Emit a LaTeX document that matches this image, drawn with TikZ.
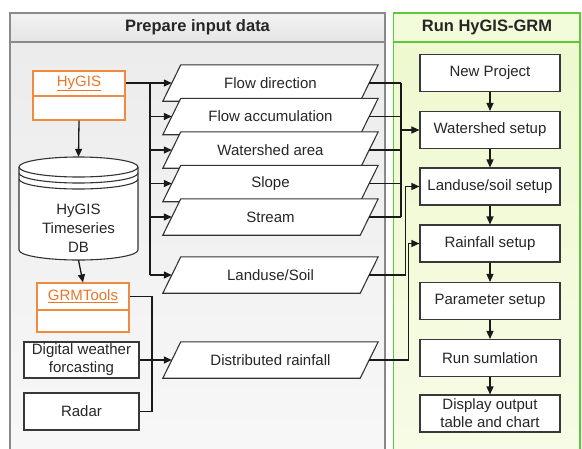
\documentclass[tikz,border=0pt]{standalone}
\usepackage{fontspec}
\setmainfont{Liberation Sans}
\usetikzlibrary{arrows.meta,backgrounds,calc}
\definecolor{orng}{HTML}{F08A3C}
\definecolor{orngtxt}{HTML}{E8772A}
\definecolor{grn}{HTML}{5CC83A}
\definecolor{pgray}{HTML}{8A8A8A}
\definecolor{gbody}{HTML}{EEF9CF}
\definecolor{gbody2}{HTML}{F7FCE6}
\definecolor{gtitle}{HTML}{F2FBDA}
\begin{document}
\begin{tikzpicture}[x=1pt,y=-1pt,
  txt/.style={font=\fontsize{15}{19}\selectfont, text=black!85, align=center},
  ttl/.style={font=\fontsize{16.5}{19}\selectfont\bfseries, text=black!85},
  para/.style={txt, minimum width=197pt, minimum height=36pt, inner sep=0pt},
  parashape/.style={draw=black!80, fill=white, line width=1.1pt},
  sbox/.style={txt, draw=black!78, fill=white, line width=1.1pt, minimum width=140pt, minimum height=37pt, inner sep=0pt},
  lbox/.style={txt, draw=black!78, fill=white, line width=1.1pt, minimum width=115pt, inner sep=0pt},
  obox/.style={txt, draw=orng, fill=white, line width=1.1pt, minimum width=92pt, inner sep=0pt, text=orngtxt},
  conn/.style={line width=1.3pt, draw=black!90},
  arr/.style={conn, -{Triangle[length=8pt,width=7pt]}},
  ]
\useasboundingbox (0,0) rectangle (582,448);

% ---------- panels ----------
\begin{pgfonlayer}{background}
  \shade[top color=gray!15, bottom color=gray!6] (10,42) rectangle (385,452);
  \shade[top color=gray!10, bottom color=gray!20] (10,13) rectangle (385,42);
  \draw[pgray, line width=1.5pt] (10,452) -- (10,13) -- (385,13) -- (385,452);
  \draw[pgray, line width=1.5pt] (10,42) -- (385,42);
  \shade[top color=gbody, bottom color=gbody2] (393.5,42) rectangle (580,452);
  \fill[gtitle] (393.5,13) rectangle (580,42);
  \draw[grn, line width=1.5pt] (393.5,452) -- (393.5,13) -- (580,13) -- (580,452);
  \draw[grn, line width=1.5pt] (393.5,42) -- (580,42);
\end{pgfonlayer}

\node[ttl] (tleft) at (197.5,27.5) {Prepare input data};
\node[ttl] (tright) at (487,27.5) {Run HyGIS-GRM};

% ---------- left sources ----------
\node[obox, minimum height=25pt] (hygt) at (79,83.5) {\underline{HyGIS}};
\node[obox, minimum height=24pt] (hygb) at (79,108) {};

% cylinder
\path (78.5,208.5) node[minimum width=119pt, minimum height=103pt, inner sep=0pt] (db) {};
\draw[draw=black!80, fill=white, line width=1.1pt]
  (19,167) -- (19,250) arc[start angle=180, end angle=0, x radius=59.5, y radius=10]
  -- (138,167) arc[start angle=0, end angle=-180, x radius=59.5, y radius=10] -- cycle;
\draw[black!80, line width=1.1pt] (19,167) arc[start angle=180, end angle=0, x radius=59.5, y radius=10];
\draw[black!80, line width=1.1pt] (19,173) arc[start angle=180, end angle=0, x radius=59.5, y radius=10];
\draw[black!80, line width=1.1pt] (19,179) arc[start angle=180, end angle=0, x radius=59.5, y radius=10];
\node[txt] (dbt) at (78.5,228) {HyGIS\\Timeseries\\DB};

\node[obox, minimum height=27pt] (grmt) at (83,296.5) {\underline{GRMTools}};
\node[obox, minimum height=22pt] (grmb) at (83,321) {};

\node[lbox, minimum height=36pt, font=\fontsize{15}{18}\selectfont] (dw) at (81.5,360) {Digital weather\\forcasting};
\node[lbox, minimum height=37pt] (rad) at (81.5,411.5) {Radar};

% ---------- parallelograms ----------
\node[para] (fd) at (270.5,83) {Flow direction};
\node[para] (fa) at (270.5,116.5) {Flow accumulation};
\node[para] (wa) at (270.5,150) {Watershed area};
\node[para] (sl) at (270.5,183.5) {Slope};
\node[para] (st) at (270.5,217) {Stream};
\node[para] (ls) at (270.5,275) {Landuse/Soil};
\node[para] (dr) at (270.5,360) {Distributed rainfall};
\begin{pgfonlayer}{background}
  \foreach \n in {fd,fa,wa,sl,st,ls,dr}
    \draw[parashape] ([xshift=9pt]\n.north west) -- ([xshift=9pt]\n.north east)
      -- ([xshift=-9pt]\n.south east) -- ([xshift=-9pt]\n.south west) -- cycle;
\end{pgfonlayer}

% ---------- right steps ----------
\node[sbox] (np) at (490,73) {New Project};
\node[sbox] (ws) at (490,130) {Watershed setup};
\node[sbox] (lss) at (490,186.5) {Landuse/soil setup};
\node[sbox] (rf) at (490,243.5) {Rainfall setup};
\node[sbox] (ps) at (490,301) {Parameter setup};
\node[sbox] (rs) at (490,358) {Run sumlation};
\node[sbox, font=\fontsize{15}{18}\selectfont] (disp) at (490,413.5) {Display output\\table and chart};

% ---------- connectors ----------
\coordinate (tr) at (150,83);
\coordinate (trb) at (150,275);
\draw[arr] (hygt.east |- fd.west) -- (fd.west);
\draw[conn] (tr) -- (trb);
\foreach \n in {fa,wa,sl,st,ls}
  \draw[arr] (tr |- \n.west) -- (\n.west);
\draw[arr] (hygb.south) -- (db.north);
\draw[arr] (db.south) -- (grmt.north);

\coordinate (gv) at (152,0);
\draw[conn] (grmt.east) -| (gv |- rad.east) -- (rad.east);
\draw[arr] (dw.east) -- (dr.west);

\coordinate (rv) at (401,0);
\draw[conn] (rv |- fd.east) -- (rv |- st.east);
\foreach \n in {fd,fa,wa,sl,st}
  \draw[conn] (\n.east) -- (rv |- \n.east);
\draw[arr] (rv |- ws.west) -- (ws.west);
\draw[arr] (ls.east) -| ($(lss.west)+(-14,0)$) -- (lss.west);
\draw[arr] (dr.east) -| ($(rf.west)+(-11,0)$) -- (rf.west);

\draw[arr] (np) -- (ws);
\draw[arr] (ws) -- (lss);
\draw[arr] (lss) -- (rf);
\draw[arr] (rf) -- (ps);
\draw[arr] (ps) -- (rs);
\draw[arr] (rs) -- (disp);
\end{tikzpicture}
\end{document}
